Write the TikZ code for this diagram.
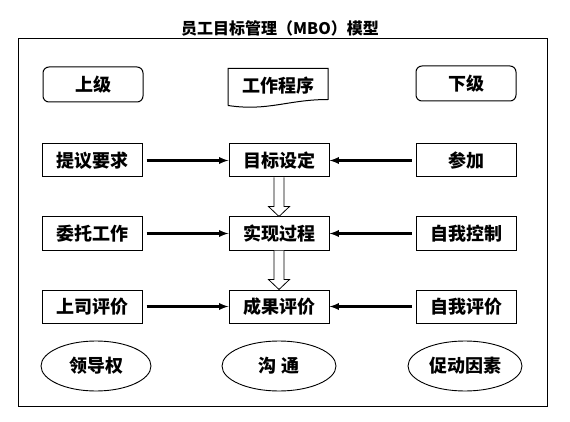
\documentclass[tikz,border=0pt]{standalone}
\usepackage{fontspec}
\newfontfamily\cjk{Noto Sans CJK SC}
\usetikzlibrary{shapes.geometric, arrows, calc}
\tikzset{
	block/.style={draw, line width=1pt, minimum width=100pt, minimum height=33pt, inner sep=0pt, font=\cjk\bfseries\fontsize{18}{18}\selectfont},
	level/.style={block, rounded corners=6pt, minimum height=35pt},
	factor/.style={draw, ellipse, line width=0.9pt, minimum width=114pt, minimum height=50pt, inner sep=0pt, font=\cjk\bfseries\fontsize{18}{18}\selectfont},
	flow/.style={-latex, line width=2.2pt, shorten <=4pt}
}

\begin{document}
\begin{tikzpicture}[x=1pt, y=-1pt]
		\useasboundingbox (0,0) rectangle (570,422);
		\node[font=\cjk\bfseries\fontsize{16}{16}\selectfont] (title) at (280,28) {员工目标管理（MBO）模型};
		\draw[line width=1pt] (18,39) rectangle (547,406);
		
		\node[level] (boss) at (93,84.5) {上级};
		\node[level] (staff) at (466,83.5) {下级};
		\node[block, draw=none, minimum width=99pt, minimum height=34pt] (proc) at (278,86) {工作程序};
		\draw[line width=1pt] ($(proc.south west)+(0,2)$) -- (proc.north west) -- (proc.north east) -- ($(proc.south east)+(0,-4)$)
			.. controls ($(proc.south east)+(-40,-4)$) and ($(proc.south west)+(40,8)$) .. ($(proc.south west)+(0,2)$);
		
		\node[block] (propose) at (92,160.5) {提议要求};
		\node[block] (goal) at (279,160.5) {目标设定};
		\node[block] (join) at (466,160.5) {参加};
		
		\node[block] (entrust) at (92,233.5) {委托工作};
		\node[block] (realize) at (279,233.5) {实现过程};
		\node[block] (control) at (466,233.5) {自我控制};
		
		\node[block] (review) at (92,306.5) {上司评价};
		\node[block] (result) at (279,306.5) {成果评价};
		\node[block] (selfrev) at (466,306.5) {自我评价};
		
		\node[factor, minimum width=110pt] (lead) at (96,366) {领导权};
		\node[factor] (talk) at (279,366) {沟\hspace{5pt}通};
		\node[factor] (motive) at (465,366) {促动因素};
		
		\draw[flow] (propose) -- (goal);
		\draw[flow] (join) -- (goal);
		\draw[flow] (entrust) -- (realize);
		\draw[flow] (control) -- (realize);
		\draw[flow] (review) -- (result);
		\draw[flow] (selfrev) -- (result);
		
		% hollow arrows between the middle steps
		\draw[line width=0.8pt, fill=white] ($(goal.south)+(-5,0)$) -- ($(realize.north)+(-5,-10)$) -- ($(realize.north)+(-10.5,-10)$) -- (realize.north)
			-- ($(realize.north)+(10.5,-10)$) -- ($(realize.north)+(5,-10)$) -- ($(goal.south)+(5,0)$);
		\draw[line width=0.8pt, fill=white] ($(realize.south)+(-5,0)$) -- ($(result.north)+(-5,-10)$) -- ($(result.north)+(-10.5,-10)$) -- (result.north)
			-- ($(result.north)+(10.5,-10)$) -- ($(result.north)+(5,-10)$) -- ($(realize.south)+(5,0)$);
	\end{tikzpicture}
\end{document}
